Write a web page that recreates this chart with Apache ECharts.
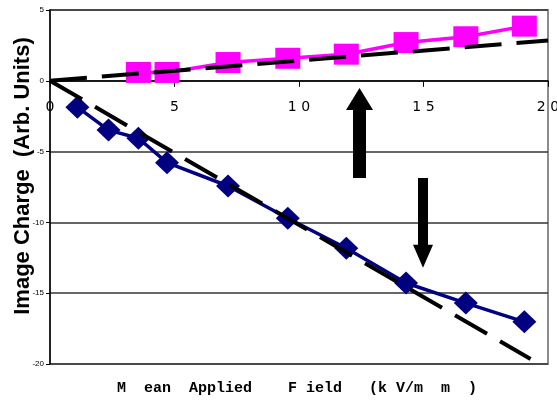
<!DOCTYPE html>
<html>
<head>
<meta charset="utf-8">
<script src="https://cdn.jsdelivr.net/npm/echarts@6/dist/echarts.min.js"></script>
<style>
html,body{margin:0;padding:0;background:#fff;}
#c{width:557px;height:401px;}
</style>
</head>
<body>
<div id="c"></div>
<script>
// ---- data ----
const pinkField  = [3.55, 4.7, 7.15, 9.55, 11.9, 14.3, 16.7, 19.05];
const pinkCharge = [0.59, 0.59, 1.29, 1.59, 1.88, 2.70, 3.11, 3.86];

const blueField  = [1.1, 2.35, 3.55, 4.7, 7.15, 9.55, 11.9, 14.3, 16.7, 19.05];
const blueCharge = [-1.86, -3.48, -4.06, -5.78, -7.43, -9.71, -11.83, -14.28, -15.70, -17.02];

const pinkTrendField  = [0, 20];
const pinkTrendCharge = [0, 2.85];
const blueTrendField  = [0, 19.3];
const blueTrendCharge = [0, -19.65];

const xTicks = [0, 5, 10, 15, 20];
const yTicks = [-20, -15, -10, -5, 0, 5];

const yTitle = 'Image Charge  (Arb. Units)';
const xTitle = 'M  ean  Applied    F ield   (k V/m  m  )';

// annotation arrows (data coordinates)
const upArrow   = {x: 12.43, from: -6.86, to: -0.51};
const downArrow = {x: 14.98, from: -6.86, to: -13.2};

const zip = (a, b) => a.map((v, i) => [v, b[i]]);

const W = 557, H = 401;
const G = {left: 50, right: 9, top: 10, bottom: 37};
const yMin = yTicks[0], yMax = yTicks[yTicks.length - 1];
const plotH = H - G.top - G.bottom;
// move the bottom x axis up so it sits on the zero line
const xAxisOffset = -plotH * (0 - yMin) / (yMax - yMin);

const chart = echarts.init(document.getElementById('c'), null, {renderer: 'canvas'});

const option = {
  backgroundColor: '#fff',
  animation: false,
  grid: Object.assign({show: true, borderColor: '#8c8c8c', borderWidth: 2, backgroundColor: '#fff',
                       containLabel: false, outerBoundsMode: 'none'}, G),
  xAxis: {
    type: 'value', min: xTicks[0], max: xTicks[xTicks.length - 1], interval: 5,
    position: 'bottom', offset: xAxisOffset,
    axisLine: {show: true, onZero: false, lineStyle: {color: '#000', width: 1.5}},
    axisTick: {show: true, inside: false, length: 6, lineStyle: {color: '#000', width: 1}},
    splitLine: {show: false},
    axisLabel: {
      margin: 20, fontSize: 14, color: '#000', fontFamily: 'DejaVu Sans',
      formatter: v => String(v).split('').join(' ')
    }
  },
  yAxis: {
    type: 'value', min: yMin, max: yMax, interval: 5,
    name: yTitle, nameLocation: 'middle', nameRotate: 90, nameGap: 16, nameMoveOverlap: false,
    nameTextStyle: {fontSize: 22, fontWeight: 'bold', fontFamily: 'Liberation Sans', color: '#000', padding: [0, 0, 0, 22]},
    axisLine: {show: true, onZero: false, lineStyle: {color: '#000', width: 1.5}},
    axisTick: {show: true, length: 4, lineStyle: {color: '#000'}},
    splitLine: {show: true, lineStyle: {color: '#333', width: 1.5}},
    axisLabel: {margin: 6, fontSize: 8, color: '#000', fontFamily: 'Liberation Sans'}
  },
  series: [
    {
      type: 'line', data: zip(pinkField, pinkCharge), z: 3,
      lineStyle: {color: '#ff00ff', width: 3.5},
      itemStyle: {color: '#ff00ff'},
      symbol: 'rect', symbolSize: [25, 21], showSymbol: true
    },
    {
      type: 'line', data: zip(blueField, blueCharge), z: 3,
      lineStyle: {color: '#000080', width: 3.5},
      itemStyle: {color: '#000080'},
      symbol: 'diamond', symbolSize: [24, 23], showSymbol: true
    },
    {
      type: 'line', data: zip(pinkTrendField, pinkTrendCharge), z: 5, symbol: 'none',
      lineStyle: {color: '#000', width: 4, type: [37, 15], cap: 'butt'}
    },
    {
      type: 'line', data: zip(blueTrendField, blueTrendCharge), z: 5, symbol: 'none',
      lineStyle: {color: '#000', width: 4, type: [37, 15], cap: 'butt'}
    }
  ]
};

chart.setOption(option);

function arrowShape(a, shaft, head, headLen) {
  const p0 = chart.convertToPixel({gridIndex: 0}, [a.x, a.from]);
  const p1 = chart.convertToPixel({gridIndex: 0}, [a.x, a.to]);
  const cx = p0[0], y0 = p0[1], y1 = p1[1];
  const dir = Math.sign(y1 - y0);
  const hb = y1 - dir * headLen;
  return [
    [cx - shaft / 2, y0], [cx + shaft / 2, y0], [cx + shaft / 2, hb],
    [cx + head / 2, hb], [cx, y1], [cx - head / 2, hb], [cx - shaft / 2, hb]
  ];
}

chart.setOption({
  graphic: [
    {type: 'polygon', z: 10, shape: {points: arrowShape(upArrow, 13, 27, 22)}, style: {fill: '#000'}},
    {type: 'polygon', z: 10, shape: {points: arrowShape(downArrow, 10, 20, 23)}, style: {fill: '#000'}},
    {type: 'text', z: 10, x: 297, y: 388,
     style: {text: xTitle, font: 'bold 15px "Liberation Mono", monospace', fill: '#000',
             align: 'center', verticalAlign: 'middle', textAlign: 'center', textVerticalAlign: 'middle'}}
  ]
});
</script>
</body>
</html>
